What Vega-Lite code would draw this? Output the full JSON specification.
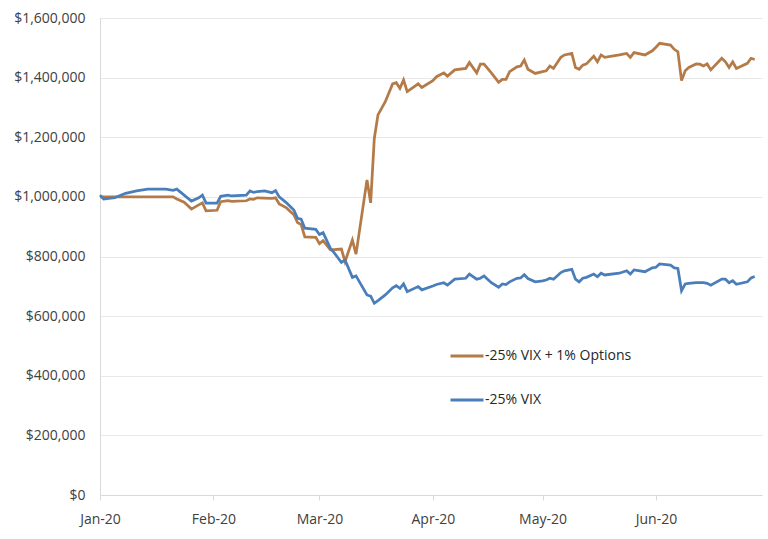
{
  "$schema": "https://vega.github.io/schema/vega-lite/v6.json",
  "width": 662,
  "height": 477,
  "autosize": {"type": "none"},
  "padding": {"left": 100, "top": 18, "right": 6, "bottom": 44},
  "background": "white",
  "config": {
    "view": {"stroke": null},
    "font": "Open Sans",
    "axisY": {
      "grid": true,
      "gridColor": "#E8E8E8",
      "domain": true,
      "domainColor": "#D9D9D9",
      "ticks": false,
      "labelPadding": 15,
      "labelFontSize": 14,
      "labelColor": "#404040",
      "title": null
    },
    "axisX": {
      "grid": false,
      "domainColor": "#D9D9D9",
      "tickColor": "#D9D9D9",
      "tickSize": 5,
      "labelFontSize": 14,
      "labelColor": "#404040",
      "labelPadding": 12,
      "labelFlush": false,
      "title": null
    }
  },
  "data": {
    "values": [
      {"date": "2020-01-01", "opt": 1000000, "vix": 1006000},
      {"date": "2020-01-02", "opt": 1000000, "vix": 993000},
      {"date": "2020-01-05", "opt": 1000000, "vix": 997000},
      {"date": "2020-01-08", "opt": 1000000, "vix": 1012000},
      {"date": "2020-01-11", "opt": 1000000, "vix": 1020000},
      {"date": "2020-01-14", "opt": 1000000, "vix": 1026000},
      {"date": "2020-01-19", "opt": 1000000, "vix": 1026000},
      {"date": "2020-01-21", "opt": 1000000, "vix": 1022000},
      {"date": "2020-01-22", "opt": 993000, "vix": 1026000},
      {"date": "2020-01-24", "opt": 982000, "vix": 1006000},
      {"date": "2020-01-26", "opt": 959000, "vix": 986000},
      {"date": "2020-01-28", "opt": 973000, "vix": 997000},
      {"date": "2020-01-29", "opt": 980000, "vix": 1006000},
      {"date": "2020-01-30", "opt": 953000, "vix": 979000},
      {"date": "2020-02-02", "opt": 955000, "vix": 979000},
      {"date": "2020-02-03", "opt": 984000, "vix": 1002000},
      {"date": "2020-02-05", "opt": 987000, "vix": 1006000},
      {"date": "2020-02-06", "opt": 985000, "vix": 1003000},
      {"date": "2020-02-10", "opt": 987000, "vix": 1006000},
      {"date": "2020-02-11", "opt": 993000, "vix": 1020000},
      {"date": "2020-02-12", "opt": 992000, "vix": 1015000},
      {"date": "2020-02-13", "opt": 997000, "vix": 1018000},
      {"date": "2020-02-15", "opt": 996000, "vix": 1020000},
      {"date": "2020-02-17", "opt": 995000, "vix": 1014000},
      {"date": "2020-02-18", "opt": 997000, "vix": 1021000},
      {"date": "2020-02-19", "opt": 976000, "vix": 1000000},
      {"date": "2020-02-21", "opt": 963000, "vix": 980000},
      {"date": "2020-02-23", "opt": 940000, "vix": 956000},
      {"date": "2020-02-24", "opt": 914000, "vix": 928000},
      {"date": "2020-02-25", "opt": 907000, "vix": 925000},
      {"date": "2020-02-26", "opt": 866000, "vix": 895000},
      {"date": "2020-02-29", "opt": 864000, "vix": 891000},
      {"date": "2020-03-01", "opt": 843000, "vix": 874000},
      {"date": "2020-03-02", "opt": 853000, "vix": 880000},
      {"date": "2020-03-04", "opt": 822000, "vix": 827000},
      {"date": "2020-03-05", "opt": 823000, "vix": 813000},
      {"date": "2020-03-07", "opt": 825000, "vix": 780000},
      {"date": "2020-03-08", "opt": 783000, "vix": 788000},
      {"date": "2020-03-10", "opt": 855000, "vix": 730000},
      {"date": "2020-03-11", "opt": 808000, "vix": 735000},
      {"date": "2020-03-14", "opt": 1057000, "vix": 671000},
      {"date": "2020-03-15", "opt": 980000, "vix": 667000},
      {"date": "2020-03-16", "opt": 1196000, "vix": 643000},
      {"date": "2020-03-17", "opt": 1275000, "vix": 652000},
      {"date": "2020-03-19", "opt": 1319000, "vix": 671000},
      {"date": "2020-03-21", "opt": 1379000, "vix": 695000},
      {"date": "2020-03-22", "opt": 1383000, "vix": 702000},
      {"date": "2020-03-23", "opt": 1364000, "vix": 693000},
      {"date": "2020-03-24", "opt": 1392000, "vix": 708000},
      {"date": "2020-03-25", "opt": 1353000, "vix": 682000},
      {"date": "2020-03-28", "opt": 1379000, "vix": 699000},
      {"date": "2020-03-29", "opt": 1367000, "vix": 688000},
      {"date": "2020-04-01", "opt": 1390000, "vix": 701000},
      {"date": "2020-04-02", "opt": 1403000, "vix": 706000},
      {"date": "2020-04-04", "opt": 1416000, "vix": 712000},
      {"date": "2020-04-05", "opt": 1405000, "vix": 704000},
      {"date": "2020-04-07", "opt": 1426000, "vix": 724000},
      {"date": "2020-04-10", "opt": 1431000, "vix": 727000},
      {"date": "2020-04-11", "opt": 1451000, "vix": 741000},
      {"date": "2020-04-13", "opt": 1416000, "vix": 724000},
      {"date": "2020-04-14", "opt": 1445000, "vix": 727000},
      {"date": "2020-04-15", "opt": 1445000, "vix": 735000},
      {"date": "2020-04-17", "opt": 1416000, "vix": 712000},
      {"date": "2020-04-19", "opt": 1384000, "vix": 697000},
      {"date": "2020-04-20", "opt": 1394000, "vix": 708000},
      {"date": "2020-04-21", "opt": 1394000, "vix": 706000},
      {"date": "2020-04-22", "opt": 1420000, "vix": 715000},
      {"date": "2020-04-24", "opt": 1436000, "vix": 727000},
      {"date": "2020-04-25", "opt": 1439000, "vix": 728000},
      {"date": "2020-04-26", "opt": 1459000, "vix": 739000},
      {"date": "2020-04-27", "opt": 1428000, "vix": 726000},
      {"date": "2020-04-29", "opt": 1414000, "vix": 715000},
      {"date": "2020-05-01", "opt": 1420000, "vix": 718000},
      {"date": "2020-05-02", "opt": 1423000, "vix": 721000},
      {"date": "2020-05-03", "opt": 1439000, "vix": 727000},
      {"date": "2020-05-04", "opt": 1431000, "vix": 724000},
      {"date": "2020-05-06", "opt": 1468000, "vix": 746000},
      {"date": "2020-05-07", "opt": 1476000, "vix": 752000},
      {"date": "2020-05-09", "opt": 1481000, "vix": 757000},
      {"date": "2020-05-10", "opt": 1434000, "vix": 724000},
      {"date": "2020-05-11", "opt": 1428000, "vix": 715000},
      {"date": "2020-05-12", "opt": 1442000, "vix": 727000},
      {"date": "2020-05-13", "opt": 1446000, "vix": 730000},
      {"date": "2020-05-15", "opt": 1472000, "vix": 741000},
      {"date": "2020-05-16", "opt": 1453000, "vix": 732000},
      {"date": "2020-05-17", "opt": 1476000, "vix": 744000},
      {"date": "2020-05-18", "opt": 1468000, "vix": 738000},
      {"date": "2020-05-22", "opt": 1476000, "vix": 744000},
      {"date": "2020-05-24", "opt": 1481000, "vix": 752000},
      {"date": "2020-05-25", "opt": 1468000, "vix": 741000},
      {"date": "2020-05-26", "opt": 1484000, "vix": 755000},
      {"date": "2020-05-29", "opt": 1476000, "vix": 749000},
      {"date": "2020-05-31", "opt": 1490000, "vix": 762000},
      {"date": "2020-06-01", "opt": 1502000, "vix": 764000},
      {"date": "2020-06-02", "opt": 1515000, "vix": 775000},
      {"date": "2020-06-05", "opt": 1509000, "vix": 771000},
      {"date": "2020-06-06", "opt": 1495000, "vix": 762000},
      {"date": "2020-06-07", "opt": 1487000, "vix": 760000},
      {"date": "2020-06-08", "opt": 1390000, "vix": 685000},
      {"date": "2020-06-09", "opt": 1423000, "vix": 708000},
      {"date": "2020-06-10", "opt": 1434000, "vix": 710000},
      {"date": "2020-06-12", "opt": 1446000, "vix": 712000},
      {"date": "2020-06-13", "opt": 1445000, "vix": 712000},
      {"date": "2020-06-14", "opt": 1439000, "vix": 712000},
      {"date": "2020-06-15", "opt": 1446000, "vix": 710000},
      {"date": "2020-06-16", "opt": 1426000, "vix": 704000},
      {"date": "2020-06-19", "opt": 1465000, "vix": 724000},
      {"date": "2020-06-20", "opt": 1453000, "vix": 724000},
      {"date": "2020-06-21", "opt": 1434000, "vix": 712000},
      {"date": "2020-06-22", "opt": 1453000, "vix": 719000},
      {"date": "2020-06-23", "opt": 1431000, "vix": 707000},
      {"date": "2020-06-26", "opt": 1448000, "vix": 715000},
      {"date": "2020-06-27", "opt": 1465000, "vix": 728000},
      {"date": "2020-06-28", "opt": 1461000, "vix": 733000}
    ]
  },
  "encoding": {
    "x": {
      "field": "date",
      "type": "temporal",
      "scale": {
        "type": "utc",
        "domain": [
          {"year": 2020, "month": 1, "date": 1, "utc": true},
          {"year": 2020, "month": 6, "date": 30, "utc": true}
        ]
      },
      "axis": {"format": "%b-%y", "tickCount": "month"}
    }
  },
  "layer": [
    {
      "mark": {"type": "line", "strokeWidth": 2.75},
      "encoding": {
        "y": {
          "field": "opt",
          "type": "quantitative",
          "scale": {"domain": [0, 1600000]},
          "axis": {"format": "$,.0f", "values": [0, 200000, 400000, 600000, 800000, 1000000, 1200000, 1400000, 1600000]}
        },
        "color": {
          "datum": "-25% VIX + 1% Options",
          "scale": {
            "domain": ["-25% VIX + 1% Options", "-25% VIX"],
            "range": ["#B47A47", "#4A7EBB"]
          },
          "legend": {
            "orient": "none",
            "legendX": 349,
            "legendY": 320,
            "title": null,
            "padding": 0,
            "symbolType": "stroke",
            "symbolSize": 1089,
            "symbolStrokeWidth": 3,
            "labelFontSize": 14,
            "labelColor": "#262626",
            "labelOffset": 0,
            "rowPadding": 19
          }
        }
      }
    },
    {
      "mark": {"type": "line", "strokeWidth": 2.75},
      "encoding": {
        "y": {
          "field": "vix",
          "type": "quantitative",
          "axis": {"format": "$,.0f", "values": [0, 200000, 400000, 600000, 800000, 1000000, 1200000, 1400000, 1600000]}
        },
        "color": {"datum": "-25% VIX"}
      }
    }
  ]
}
